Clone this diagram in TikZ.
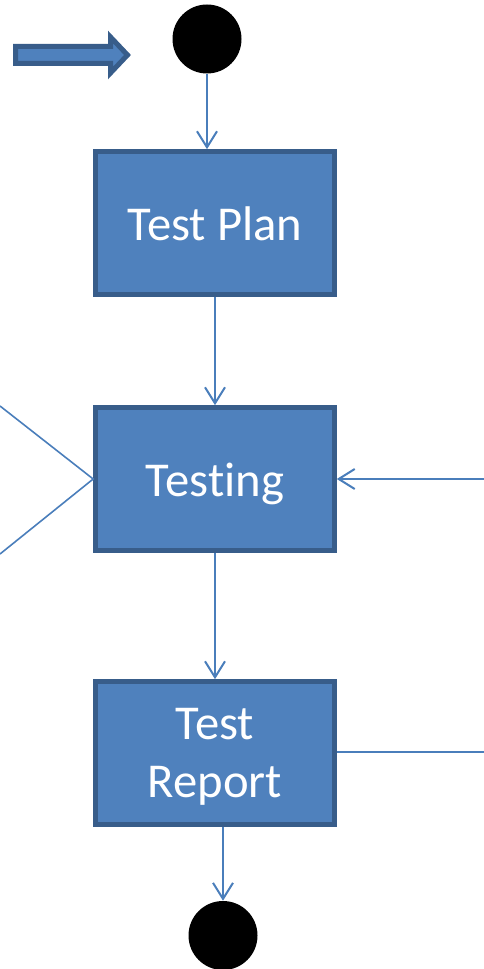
\documentclass[tikz,border=0pt]{standalone}
\usepackage{fontspec}
\setmainfont{Carlito}[Ligatures=NoCommon]
\usepackage{tikz}
\usetikzlibrary{arrows.meta, positioning}
\definecolor{boxfill}{HTML}{4F81BD}
\definecolor{boxline}{HTML}{385D8A}
\definecolor{flowline}{HTML}{4A7EBB}
\tikzset{
>={Straight Barb[length=12pt,width=15pt,line width=1.5pt]}, % open arrow heads
activity/.style={rectangle, draw=boxline, fill=boxfill, line width=3.75pt,
  minimum width=179pt, minimum height=107pt, text=white, align=center,
  font=\fontsize{36.5}{43.5}\selectfont, text depth=0pt},
oneline/.style={text height=26.5pt},
endpoint/.style={circle, fill=black, minimum size=51.75pt, inner sep=0pt},
flow/.style={draw=flowline, line width=1.2pt},
}
\begin{document}
\begin{tikzpicture}[x=0.75pt,y=-0.75pt]
  \useasboundingbox (0,0) rectangle (484,969);
  % block arrow
  \filldraw[boxline, fill=boxfill, line width=3.75pt, line join=miter]
    (15.5,46.5) -- (110.5,46.5) -- (110.5,37) -- (127.5,55) -- (110.5,73)
    -- (110.5,63.5) -- (15.5,63.5) -- cycle;
  \node[endpoint] (start) at (207,39) {};
  \node[activity, oneline] (plan) at (215,223) {Test Plan};
  \node[activity, oneline] (testing) at (215,479) {Testing};
  \node[activity] (report) at (215,753) {Test\\Report};
  \node[endpoint] (stop) at (223,935.5) {};
  \coordinate (inA) at (0,406);
  \coordinate (inB) at (0,554);
  \coordinate (back) at (484,479);
  \coordinate (out) at (484,752);
  \draw[flow,->] (start.south) -- (plan.north -| start);
  \draw[flow,->] (plan) -- (testing);
  \draw[flow,->] (testing) -- (report);
  \draw[flow,->] (report.south -| stop) -- (stop.north);
  \draw[flow] (inA) -- (testing.west) -- (inB);
  \draw[flow,->] (back) -- (testing.east);
  \draw[flow] (report.east |- out) -- (out);
\end{tikzpicture}
\end{document}
